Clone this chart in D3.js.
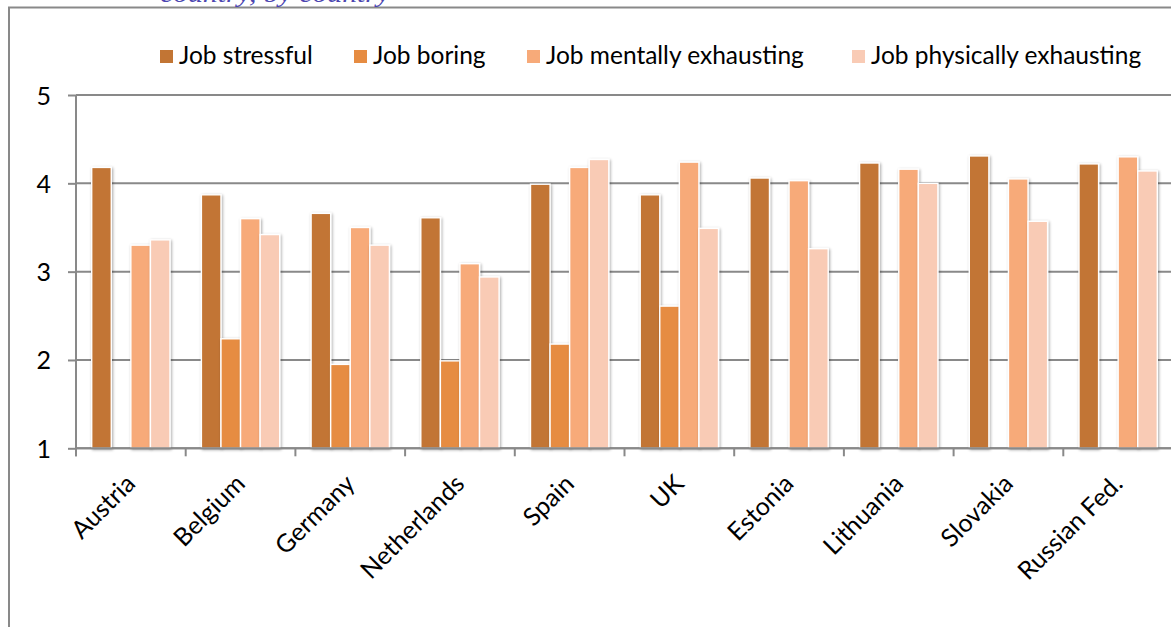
<!DOCTYPE html>
<html>
<head>
<meta charset="utf-8">
<script src="https://cdn.jsdelivr.net/npm/d3@7/dist/d3.min.js"></script>
<style>
  html, body { margin: 0; padding: 0; background: #fff; }
  svg { display: block; }
  text { font-family: Lato, "Open Sans", sans-serif; fill: #000; }
</style>
</head>
<body>
<svg id="chart" width="1171" height="627"></svg>
<script>
// Countries on the x axis
const countries = ["Austria", "Belgium", "Germany", "Netherlands", "Spain", "UK",
                   "Estonia", "Lithuania", "Slovakia", "Russian Fed."];

// Series names, in legend order
const seriesNames = ["Job stressful", "Job boring", "Job mentally exhausting", "Job physically exhausting"];

// Mean scores per country (null = not asked)
const jobStressful  = [4.18, 3.87, 3.66, 3.61, 3.99, 3.87, 4.06, 4.23, 4.31, 4.22];
const jobBoring     = [null, 2.24, 1.95, 1.99, 2.18, 2.61, null, null, null, null];
const jobMentally   = [3.30, 3.60, 3.50, 3.09, 4.18, 4.24, 4.03, 4.16, 4.05, 4.30];
const jobPhysically = [3.36, 3.42, 3.30, 2.94, 4.27, 3.49, 3.26, 4.00, 3.57, 4.14];

// Y axis ticks
const yTicks = [1, 2, 3, 4, 5];

const seriesColors = ["#C27534", "#E68C42", "#F7AA79", "#F9CBB5"];
const seriesValues = [jobStressful, jobBoring, jobMentally, jobPhysically];

const svg = d3.select("#chart");
const W = 1171, H = 627;

// Plot area
const plot = { left: 76, top: 95, right: 76 + 109.7 * 10, bottom: 448.3 };

const x0 = d3.scaleBand().domain(countries).range([plot.left, plot.right]).padding(0);
const x1 = d3.scaleBand().domain(seriesNames)
  .range([15.7, x0.bandwidth() - 15.7]).padding(0);
const y = d3.scaleLinear().domain([1, 5]).range([plot.bottom, plot.top]);

// Soft shadow behind bars
const defs = svg.append("defs");
const f = defs.append("filter").attr("id", "barShadow")
  .attr("x", "-30%").attr("y", "-5%").attr("width", "160%").attr("height", "110%");
f.append("feGaussianBlur").attr("in", "SourceAlpha").attr("stdDeviation", 1.6).attr("result", "b");
f.append("feOffset").attr("in", "b").attr("dx", 1).attr("dy", 1).attr("result", "o");
f.append("feComponentTransfer").attr("in", "o").attr("result", "s")
  .append("feFuncA").attr("type", "linear").attr("slope", 0.35);
const fm = f.append("feMerge");
fm.append("feMergeNode").attr("in", "s");
fm.append("feMergeNode").attr("in", "SourceGraphic");

// Chart frame (partly outside the view)
svg.append("rect")
  .attr("x", 9).attr("y", 7.5).attr("width", 1300).attr("height", 700)
  .attr("fill", "none").attr("stroke", "#898989").attr("stroke-width", 2);

// Title running off the top edge
svg.append("text")
  .attr("x", 160).attr("y", 2)
  .attr("textLength", 230).attr("lengthAdjust", "spacingAndGlyphs")
  .style("font-family", "'Liberation Serif', serif")
  .style("font-style", "italic")
  .style("font-size", "26px")
  .style("fill", "#4B45B0")
  .text("country, by country");

// Y axis with tick labels
const yAxis = d3.axisLeft(y).tickValues(yTicks).tickSize(8).tickPadding(17)
  .tickFormat(d3.format("d"));
const gy = svg.append("g").attr("transform", `translate(${plot.left},0)`).call(yAxis);
gy.select(".domain").attr("stroke", "#898989").attr("stroke-width", 2)
  .attr("d", `M0,${plot.top}V${plot.bottom + 8}`);
gy.selectAll(".tick line").attr("stroke", "#898989").attr("stroke-width", 2);
gy.selectAll(".tick text").style("font-size", "25px").style("font-family", "Lato, sans-serif")
  .attr("dy", "0.36em");

// Horizontal gridlines
svg.append("g").selectAll("line").data(yTicks).join("line")
  .attr("x1", plot.left).attr("x2", W)
  .attr("y1", d => y(d)).attr("y2", d => y(d))
  .attr("stroke", "#898989").attr("stroke-width", 2);

// Bars
const groups = svg.append("g").selectAll("g").data(countries).join("g")
  .attr("transform", d => `translate(${x0(d)},0)`);

groups.selectAll("rect")
  .data((c, i) => seriesNames.map((s, k) => ({ s, k, v: seriesValues[k][i] })).filter(d => d.v != null))
  .join("rect")
  .attr("x", d => x1(d.s))
  .attr("width", x1.bandwidth())
  .attr("y", d => y(d.v))
  .attr("height", d => y(1) - y(d.v))
  .attr("fill", d => seriesColors[d.k])
  .attr("stroke", "#fff").attr("stroke-width", 1.4)
  .attr("filter", "url(#barShadow)");

// X axis line with ticks at category boundaries
const gx = svg.append("g");
gx.append("line").attr("x1", plot.left).attr("x2", W)
  .attr("y1", y(1)).attr("y2", y(1)).attr("stroke", "#898989").attr("stroke-width", 2);
gx.selectAll("line.tk").data(countries).join("line").attr("class", "tk")
  .attr("x1", d => x0(d)).attr("x2", d => x0(d))
  .attr("y1", y(1)).attr("y2", y(1) + 8)
  .attr("stroke", "#898989").attr("stroke-width", 2);

// Rotated category labels
gx.selectAll("text").data(countries).join("text")
  .attr("text-anchor", "end")
  .attr("transform", d => `translate(${x0(d) + x0.bandwidth() / 2 + 6},${y(1) + 37}) rotate(-45)`)
  .style("font-size", "25px")
  .text(d => d);

// Legend
const legend = svg.append("g").attr("transform", "translate(160,0)");
const legendX = [0, 194, 367, 692];
seriesNames.forEach((s, k) => {
  const g = legend.append("g").attr("transform", `translate(${legendX[k]},0)`);
  g.append("rect").attr("x", 0).attr("y", 50).attr("width", 13).attr("height", 13)
    .attr("fill", seriesColors[k]);
  g.append("text").attr("x", 19).attr("y", 64).style("font-size", "24.5px").text(s);
});
</script>
</body>
</html>
